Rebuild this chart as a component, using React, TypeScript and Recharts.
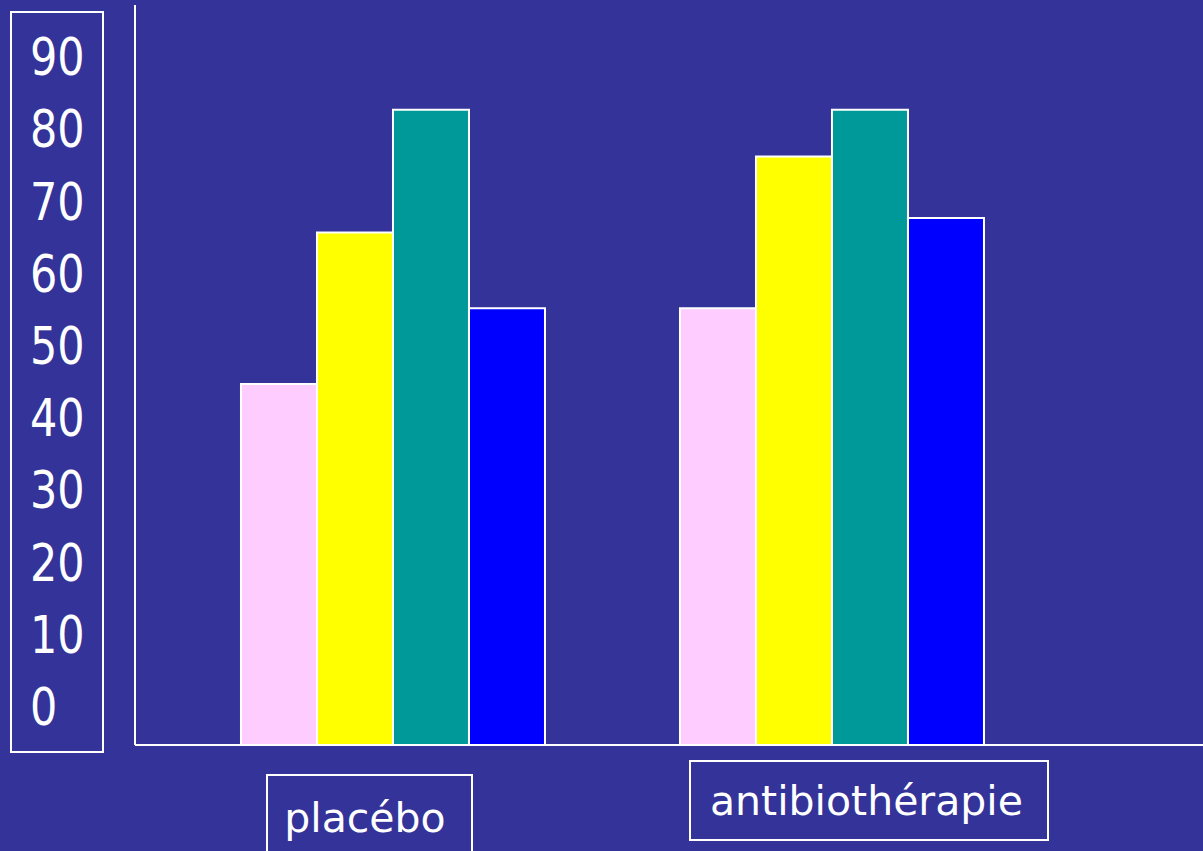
import React from "react";
import { BarChart, Bar, XAxis, YAxis } from "recharts";

// Groups along the x axis
const categories = ["placébo", "antibiothérapie"];

// Four series per group
const seriesPink = [45, 55.5];
const seriesYellow = [66, 76.5];
const seriesTeal = [83, 83];
const seriesBlue = [55.5, 68];

// Value axis
const yTicks = [0, 10, 20, 30, 40, 50, 60, 70, 80, 90];
const yDomain: [number, number] = [-5, 97.5];

const data = categories.map((name, i) => ({
  name,
  pink: seriesPink[i],
  yellow: seriesYellow[i],
  teal: seriesTeal[i],
  blue: seriesBlue[i],
}));

const BG = "#333399";
const FONT = "'DejaVu Sans', Verdana, sans-serif";

// Framed category labels below the axis: box and text offsets from the band centre
const labelLayout = [
  { boxX: -125, boxY: 30, boxW: 205, boxH: 90, textDx: -27, textDy: 87 },
  { boxX: -141, boxY: 16, boxW: 358, boxH: 79, textDx: 35.5, textDy: 70 },
];

const XTick = (props: any) => {
  const { x, y, payload, index } = props;
  const l = labelLayout[index] || labelLayout[0];
  return (
    <g>
      <rect
        x={x + l.boxX}
        y={y + l.boxY}
        width={l.boxW}
        height={l.boxH}
        fill="none"
        stroke="#ffffff"
        strokeWidth={2}
      />
      <text
        x={x + l.textDx}
        y={y + l.textDy}
        textAnchor="middle"
        fill="#ffffff"
        fontSize={41}
        fontFamily={FONT}
      >
        {payload.value}
      </text>
    </g>
  );
};

const YTick = (props: any) => {
  const { y, payload } = props;
  return (
    <text
      transform={`translate(30, ${y + 16}) scale(1, 1.18)`}
      textAnchor="start"
      fill="#ffffff"
      fontSize={43}
      fontFamily={FONT}
    >
      {payload.value}
    </text>
  );
};

const range = (key: string) => (d: any) => [yDomain[0], d[key]];

export default function App() {
  return (
    <div
      style={{
        position: "absolute",
        left: 0,
        top: 0,
        width: 1203,
        height: 851,
        background: BG,
        overflow: "hidden",
      }}
    >
      <div
        style={{
          position: "absolute",
          left: 10,
          top: 11,
          width: 94,
          height: 742,
          border: "2px solid #ffffff",
          boxSizing: "border-box",
        }}
      />
      <BarChart
        width={1203}
        height={851}
        data={data}
        margin={{ top: 5, right: 0, bottom: 0, left: 0 }}
        barCategoryGap="15.6%"
        barGap={0}
        style={{ position: "absolute", left: 0, top: 0 }}
      >
        <XAxis
          dataKey="name"
          height={106}
          padding={{ left: 37.5, right: 152.5 }}
          axisLine={{ stroke: "#ffffff", strokeWidth: 2 }}
          tickLine={false}
          tickSize={0}
          tickMargin={0}
          tick={<XTick />}
          interval={0}
        />
        <YAxis
          type="number"
          width={135}
          domain={yDomain}
          ticks={yTicks}
          axisLine={{ stroke: "#ffffff", strokeWidth: 2 }}
          tickLine={false}
          tick={<YTick />}
          interval={0}
        />
        <Bar dataKey={range("pink")} fill="#FFCCFF" stroke="#ffffff" strokeWidth={2} isAnimationActive={false} />
        <Bar dataKey={range("yellow")} fill="#FFFF00" stroke="#ffffff" strokeWidth={2} isAnimationActive={false} />
        <Bar dataKey={range("teal")} fill="#009999" stroke="#ffffff" strokeWidth={2} isAnimationActive={false} />
        <Bar dataKey={range("blue")} fill="#0000FF" stroke="#ffffff" strokeWidth={2} isAnimationActive={false} />
      </BarChart>
    </div>
  );
}
